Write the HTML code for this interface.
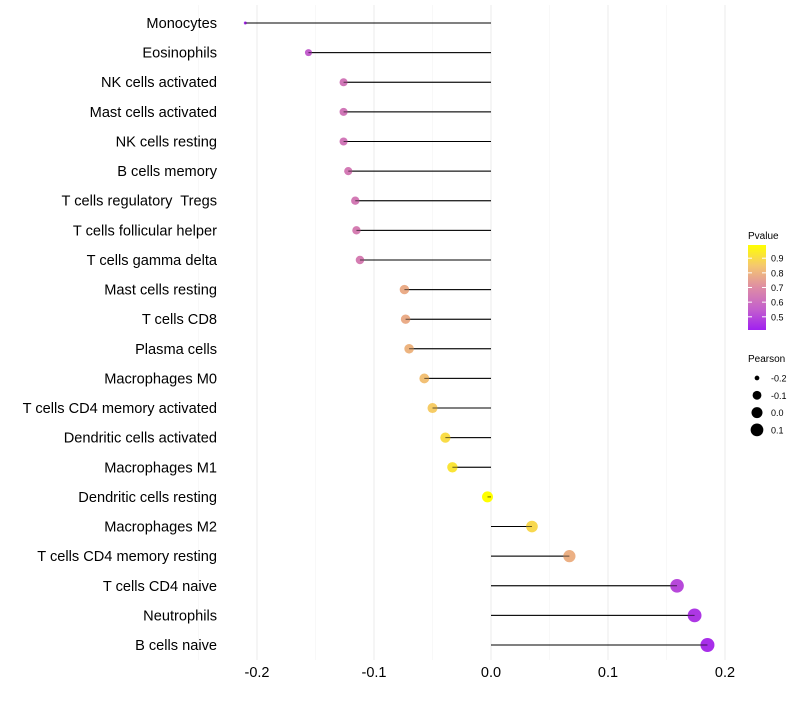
<!DOCTYPE html>
<html><head><meta charset="utf-8"><style>
body{margin:0;background:#fff;font-family:"Liberation Sans",sans-serif}
</style></head><body>
<svg id="c" width="800" height="700" xmlns="http://www.w3.org/2000/svg"></svg>
<script>
const categories=["Monocytes","Eosinophils","NK cells activated","Mast cells activated","NK cells resting","B cells memory","T cells regulatory  Tregs","T cells follicular helper","T cells gamma delta","Mast cells resting","T cells CD8","Plasma cells","Macrophages M0","T cells CD4 memory activated","Dendritic cells activated","Macrophages M1","Dendritic cells resting","Macrophages M2","T cells CD4 memory resting","T cells CD4 naive","Neutrophils","B cells naive"];
const pearson=[-0.210,-0.156,-0.126,-0.126,-0.126,-0.122,-0.116,-0.115,-0.112,-0.074,-0.073,-0.070,-0.057,-0.050,-0.039,-0.033,-0.003,0.035,0.067,0.159,0.174,0.185];
const pvalue=[0.43,0.55,0.63,0.63,0.63,0.64,0.64,0.65,0.65,0.78,0.78,0.80,0.83,0.86,0.90,0.92,0.99,0.89,0.79,0.50,0.46,0.44];
const xTicks=[-0.2,-0.1,0.0,0.1,0.2];
const pTicks=[0.5,0.6,0.7,0.8,0.9];
const sizeTicks=[-0.2,-0.1,0.0,0.1];
const svg=document.getElementById('c');
const NS="http://www.w3.org/2000/svg";
function el(t,a,p){const e=document.createElementNS(NS,t);for(const k in a)e.setAttribute(k,a[k]);(p||svg).appendChild(e);return e;}
const x=v=>491+v*1170;
const y=i=>23+i*(622/21);
const r=v=>1.5+5.5*Math.sqrt(Math.max(0,(v+0.21)/0.395));
const stops=[[0.41,[160,32,240]],[0.55,[195,95,205]],[0.7,[222,140,165]],[0.85,[245,200,110]],[0.99,[255,255,0]]];
function col(p){p=Math.max(0.41,Math.min(0.99,p));for(let i=0;i<stops.length-1;i++){const[a,ca]=stops[i],[b,cb]=stops[i+1];if(p<=b){const t=(p-a)/(b-a);return 'rgb('+ca.map((c,k)=>Math.round(c+(cb[k]-c)*t)).join(',')+')';}}return 'rgb(255,255,0)';}
for(let v=-0.25;v<=0.2001;v+=0.05){const minor=Math.abs(Math.round(v*100)%10)===5;const g=el('line',{x1:x(v),x2:x(v),y1:5,y2:660,stroke:minor?'#f3f3f3':'#ebebeb','stroke-width':minor?0.6:1});

}
xTicks.forEach(v=>{const t=el('text',{x:x(v),y:677,'text-anchor':'middle','font-size':14.5,fill:'#000'});t.textContent=v.toFixed(1);

});
categories.forEach((c,i)=>{
const t=el('text',{x:217,y:y(i)+5,'text-anchor':'end','font-size':14.6,fill:'#000'});t.style.whiteSpace='pre';t.textContent=c;


const s=el('line',{x1:x(0),x2:x(pearson[i]),y1:y(i),y2:y(i),stroke:'#000','stroke-width':1});


const d=el('circle',{cx:x(pearson[i]),cy:y(i),r:r(pearson[i]),fill:col(pvalue[i])});


const s2=el('line',{x1:x(0),x2:x(pearson[i]),y1:y(i),y2:y(i),stroke:'#000','stroke-width':1,opacity:0.6});


});
const lt=el('text',{x:748,y:239,'font-size':10});lt.textContent='Pvalue';


const defs=el('defs',{});const lg=el('linearGradient',{id:'g',x1:0,y1:1,x2:0,y2:0},defs);
[0.41,0.55,0.7,0.85,0.99].forEach(p=>el('stop',{offset:(p-0.41)/0.58,'stop-color':col(p)},lg));
const bar=el('rect',{x:748,y:245,width:18,height:85,fill:'url(#g)'});


const py=p=>330-(p-0.41)/0.58*85;
pTicks.forEach(p=>{el('line',{x1:748,x2:752,y1:py(p),y2:py(p),stroke:'#fff'});el('line',{x1:762,x2:766,y1:py(p),y2:py(p),stroke:'#fff'});
const t=el('text',{x:771,y:py(p)+3.5,'font-size':9});t.textContent=p.toFixed(1);

});
const st=el('text',{x:748,y:362,'font-size':10});st.textContent='Pearson';


sizeTicks.forEach((v,i)=>{const cy=378+i*17.3;
const c=el('circle',{cx:757,cy:cy,r:r(v),fill:'#000'});


const t=el('text',{x:771,y:cy+3.5,'font-size':9});t.textContent=v.toFixed(1);

});
</script>
</body></html>
